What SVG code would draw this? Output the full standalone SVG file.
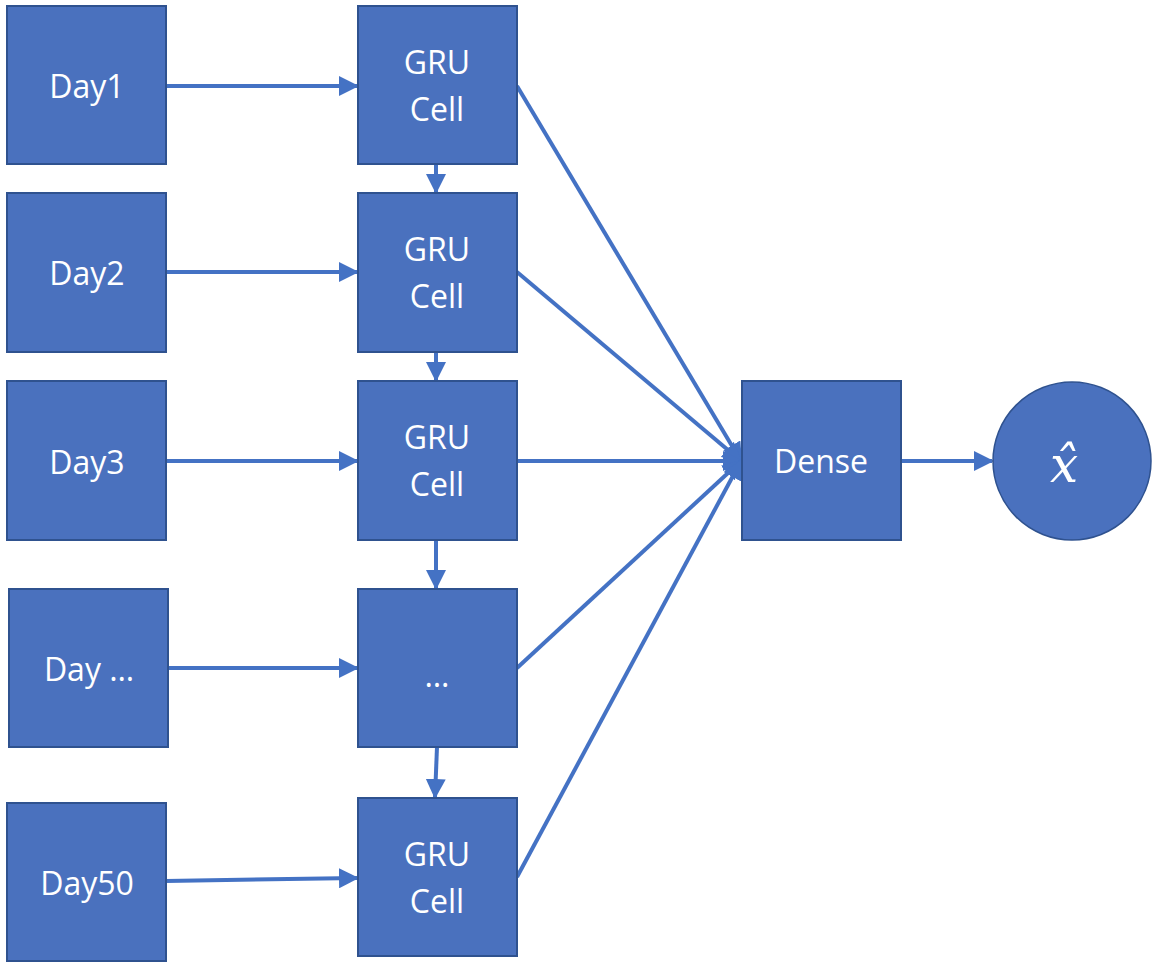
<svg xmlns="http://www.w3.org/2000/svg" width="1160" height="970" viewBox="0 0 1160 970">
<style>
.box{fill:#4A71BE;stroke:#2F528F;stroke-width:2}
.lbl{font-family:"Open Sans","Liberation Sans",sans-serif;font-size:32px;fill:#fff;text-anchor:middle;dominant-baseline:central}
.ea{stroke:#4472C4;stroke-width:4;fill:none;marker-end:url(#ah)}
</style>
<defs>
<marker id="ah" markerWidth="5" markerHeight="5" refX="4.5" refY="2.5" orient="auto" markerUnits="strokeWidth">
<path d="M0,0 L5,2.5 L0,5 Z" fill="#4472C4"/>
</marker>
</defs>
<rect width="1160" height="970" fill="#fff"/>
<g id="connectors">
<line class="ea" x1="166" y1="86" x2="357" y2="86"/>
<line class="ea" x1="166" y1="272" x2="357" y2="272"/>
<line class="ea" x1="166" y1="461" x2="357" y2="461"/>
<line class="ea" x1="168" y1="668" x2="357" y2="668"/>
<line class="ea" x1="166" y1="881" x2="357" y2="878"/>
<line class="ea" x1="436" y1="164" x2="436" y2="192"/>
<line class="ea" x1="436" y1="352" x2="436" y2="380"/>
<line class="ea" x1="436" y1="540" x2="436" y2="588"/>
<line class="ea" x1="437" y1="747" x2="435" y2="797"/>
<line class="ea" x1="517" y1="86" x2="741" y2="461"/>
<line class="ea" x1="517" y1="272" x2="741" y2="461"/>
<line class="ea" x1="517" y1="461" x2="741" y2="461"/>
<line class="ea" x1="517" y1="668" x2="741" y2="461"/>
<line class="ea" x1="517" y1="877" x2="741" y2="461"/>
<line class="ea" x1="901" y1="461" x2="992" y2="461"/>
</g>
<g id="day1"><rect class="box" x="7" y="6" width="159" height="158"/><text class="lbl" x="87" y="85">Day1</text></g>
<g id="day2"><rect class="box" x="7" y="193" width="159" height="159"/><text class="lbl" x="87" y="272">Day2</text></g>
<g id="day3"><rect class="box" x="7" y="381" width="159" height="159"/><text class="lbl" x="87" y="461">Day3</text></g>
<g id="dayn"><rect class="box" x="9" y="589" width="159" height="158"/><text class="lbl" x="89" y="668">Day …</text></g>
<g id="day50"><rect class="box" x="7" y="803" width="159" height="158"/><text class="lbl" x="87" y="882">Day50</text></g>
<g id="gru1"><rect class="box" x="358" y="6" width="159" height="158"/><text class="lbl" x="437" y="61">GRU</text><text class="lbl" x="437" y="108">Cell</text></g>
<g id="gru2"><rect class="box" x="358" y="193" width="159" height="159"/><text class="lbl" x="437" y="248">GRU</text><text class="lbl" x="437" y="295">Cell</text></g>
<g id="gru3"><rect class="box" x="358" y="381" width="159" height="159"/><text class="lbl" x="437" y="436">GRU</text><text class="lbl" x="437" y="483">Cell</text></g>
<g id="grun"><rect class="box" x="358" y="589" width="159" height="158"/><text class="lbl" x="437" y="674">…</text></g>
<g id="gru50"><rect class="box" x="358" y="798" width="159" height="158"/><text class="lbl" x="437" y="853">GRU</text><text class="lbl" x="437" y="900">Cell</text></g>
<g id="dense"><rect class="box" x="742" y="381" width="159" height="159"/><text class="lbl" x="821" y="460">Dense</text></g>
<g id="output"><circle cx="1072" cy="461" r="79" fill="#4A71BE" stroke="#2F528F" stroke-width="1.5"/>
<text x="1064" y="482" font-family="DejaVu Serif,serif" font-style="italic" font-size="50" fill="#fff" text-anchor="middle">x̂</text></g>
</svg>
